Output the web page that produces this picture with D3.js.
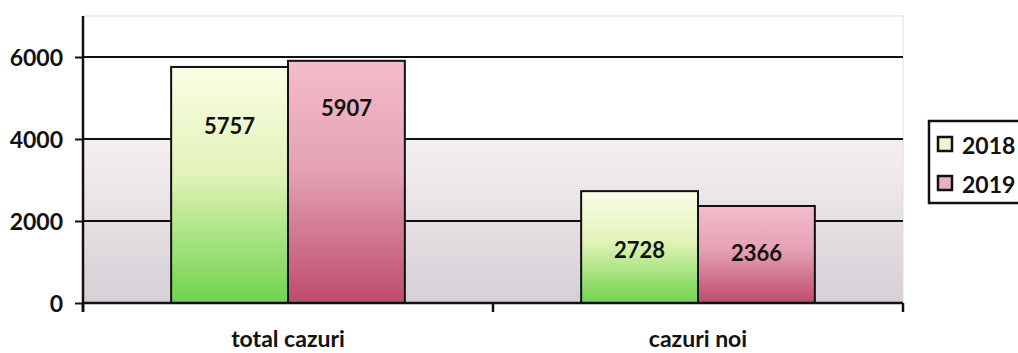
<!DOCTYPE html>
<html>
<head>
<meta charset="utf-8">
<script src="https://cdn.jsdelivr.net/npm/d3@7.9.0/dist/d3.min.js"></script>
<style>
  body { margin: 0; background: #fff; }
  text { font-family: Lato, "Open Sans", sans-serif; font-weight: 700; fill: #111; }
</style>
</head>
<body>
<svg id="chart" width="1018" height="353"></svg>
<script>
const categories = ['total cazuri', 'cazuri noi'];
const years = ['2018', '2019'];
const values2018 = [5757, 2728];
const values2019 = [5907, 2366];
const yTicks = [0, 2000, 4000, 6000];

const svg = d3.select('#chart');
const margin = { top: 16, left: 83, right: 115, bottom: 50 };
const width = 1018 - margin.left - margin.right;
const height = 353 - margin.top - margin.bottom;

const defs = svg.append('defs');

// plot background: white on top, greyish pink lower down
let bg = defs.append('linearGradient').attr('id', 'bg')
  .attr('x1', 0).attr('y1', 0).attr('x2', 0).attr('y2', 1);
bg.append('stop').attr('offset', '0%').attr('stop-color', '#ffffff');
bg.append('stop').attr('offset', '42%').attr('stop-color', '#ffffff');
bg.append('stop').attr('offset', '43%').attr('stop-color', '#f6eff2');
bg.append('stop').attr('offset', '100%').attr('stop-color', '#d6d0d6');

let g18 = defs.append('linearGradient').attr('id', 'g2018')
  .attr('x1', 0).attr('y1', 0).attr('x2', 0).attr('y2', 1);
g18.append('stop').attr('offset', '0%').attr('stop-color', '#fbfde6');
g18.append('stop').attr('offset', '45%').attr('stop-color', '#e2f3b8');
g18.append('stop').attr('offset', '100%').attr('stop-color', '#6fd34c');

let g19 = defs.append('linearGradient').attr('id', 'g2019')
  .attr('x1', 0).attr('y1', 0).attr('x2', 0).attr('y2', 1);
g19.append('stop').attr('offset', '0%').attr('stop-color', '#f4bccb');
g19.append('stop').attr('offset', '45%').attr('stop-color', '#e4a2b4');
g19.append('stop').attr('offset', '100%').attr('stop-color', '#be4b6c');

const fills = { '2018': 'url(#g2018)', '2019': 'url(#g2019)' };
const swatchFills = { '2018': '#eef5cf', '2019': '#e8b0c0' };
const labelOffset = { '2018': 67, '2019': 55 };

const g = svg.append('g').attr('transform', `translate(${margin.left},${margin.top})`);

const x0 = d3.scaleBand().domain(categories).range([0, width]);
const x1 = d3.scaleBand().domain(years).range([0, x0.bandwidth() * 0.57])
const y = d3.scaleLinear().domain([0, 7000]).range([height, 0]);

g.append('rect').attr('width', width).attr('height', height)
  .attr('fill', 'url(#bg)').attr('stroke', '#ddd').attr('stroke-width', 1);

// gridlines
g.selectAll('.grid').data(yTicks.slice(1)).join('line')
  .attr('x1', 0).attr('x2', width)
  .attr('y1', d => y(d)).attr('y2', d => y(d))
  .attr('stroke', '#111').attr('stroke-width', 2);

const rows = categories.map((c, i) => ({
  cat: c,
  vals: [{ year: '2018', v: values2018[i] }, { year: '2019', v: values2019[i] }]
}));

const groups = g.selectAll('.grp').data(rows).join('g')
  .attr('transform', d => `translate(${x0(d.cat) + (x0.bandwidth() - x1.range()[1]) / 2},0)`);

groups.selectAll('rect').data(d => d.vals).join('rect')
  .attr('x', d => x1(d.year))
  .attr('y', d => y(d.v))
  .attr('width', x1.bandwidth())
  .attr('height', d => height - y(d.v))
  .attr('fill', d => fills[d.year])
  .attr('stroke', '#111').attr('stroke-width', 2);

groups.selectAll('text').data(d => d.vals).join('text')
  .attr('x', d => x1(d.year) + x1.bandwidth() / 2)
  .attr('y', d => y(d.v) + labelOffset[d.year])
  .attr('text-anchor', 'middle')
  .attr('font-size', 22)
  .text(d => d.v);

// y axis
const yAxis = g.append('g')
  .call(d3.axisLeft(y).tickValues(yTicks).tickFormat(d3.format('d')).tickSize(8).tickPadding(12));
yAxis.select('.domain').remove();
yAxis.selectAll('line').attr('stroke', '#111').attr('stroke-width', 2);
yAxis.selectAll('text').attr('font-size', 23).attr('dy', '0.36em');
g.append('line').attr('x1', 0).attr('x2', 0).attr('y1', 0).attr('y2', height + 9)
  .attr('stroke', '#111').attr('stroke-width', 2.5);

// x axis
g.append('line').attr('x1', 0).attr('x2', width).attr('y1', height).attr('y2', height)
  .attr('stroke', '#111').attr('stroke-width', 2.5);
g.selectAll('.xtick').data([0, width / 2, width]).join('line')
  .attr('x1', d => d).attr('x2', d => d)
  .attr('y1', height).attr('y2', height + 9)
  .attr('stroke', '#111').attr('stroke-width', 2.5);
g.selectAll('.xlab').data(categories).join('text')
  .attr('x', d => x0(d) + x0.bandwidth() / 2)
  .attr('y', height + 44)
  .attr('text-anchor', 'middle')
  .attr('font-size', 23)
  .text(d => d);

// legend
const legend = svg.append('g').attr('transform', 'translate(929,121)');
legend.append('rect').attr('width', 100).attr('height', 82)
  .attr('fill', '#fff').attr('stroke', '#111').attr('stroke-width', 2.5);
const items = legend.selectAll('.item').data(years).join('g')
  .attr('transform', (d, i) => `translate(9,${16 + i * 39})`);
items.append('rect').attr('width', 14).attr('height', 14)
  .attr('fill', d => swatchFills[d]).attr('stroke', '#111').attr('stroke-width', 2.5);
items.append('text').attr('x', 24).attr('y', 17)
  .attr('font-size', 23).text(d => d);
</script>
</body>
</html>
